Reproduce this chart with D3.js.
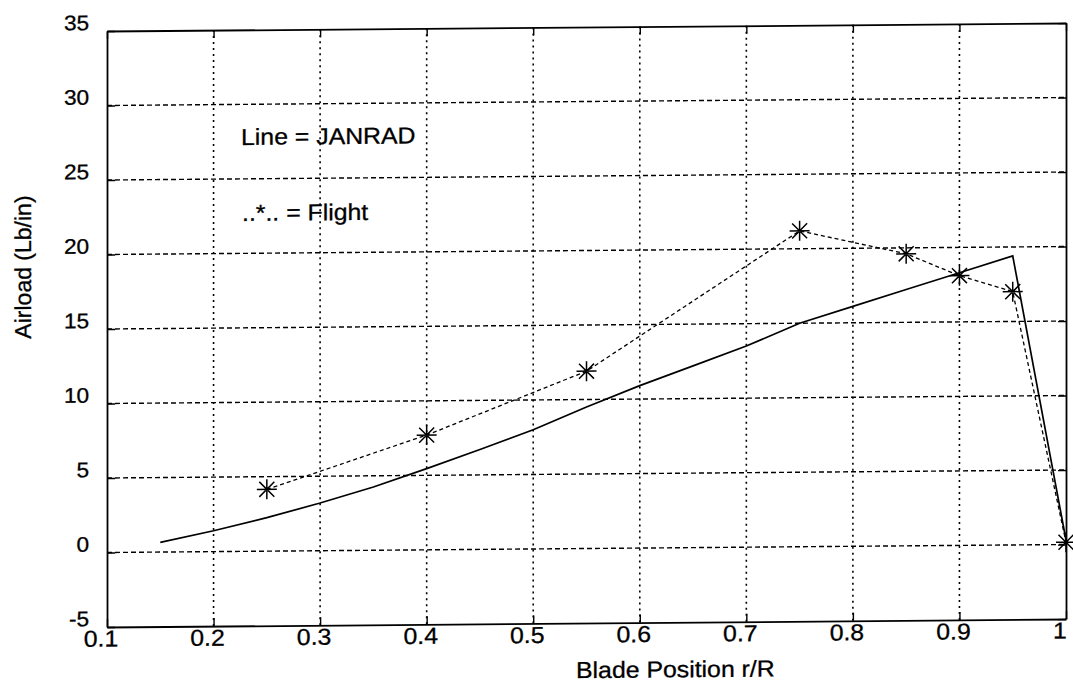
<!DOCTYPE html>
<html>
<head>
<meta charset="utf-8">
<script src="https://cdn.jsdelivr.net/npm/d3@7"></script>
<style>
  html, body { margin: 0; padding: 0; background: #fff; }
  svg { display: block; }
  text { font-family: "Liberation Sans", Arial, sans-serif; fill: #000; stroke: #000; stroke-width: 0.3px; }
</style>
</head>
<body>
<svg id="chart" width="1073" height="688"></svg>
<script>
// Blade spanwise airload: JANRAD prediction vs. flight measurement
const janradR    = [0.15, 0.2, 0.25, 0.3, 0.35, 0.4, 0.45, 0.5, 0.55, 0.6, 0.65, 0.7, 0.75, 0.8, 0.85, 0.9, 0.95, 1.0];
const janradLoad = [0.65, 1.4, 2.25, 3.2, 4.25, 5.45, 6.7, 8.0, 9.5, 10.9, 12.2, 13.5, 15.0, 16.1, 17.2, 18.3, 19.4, 0.3];

const flightR    = [0.25, 0.4, 0.55, 0.75, 0.85, 0.9, 0.95, 1.0];
const flightLoad = [4.15, 7.7, 11.9, 21.2, 19.6, 18.1, 17.0, 0.15];

const xTicks = [0.1, 0.2, 0.3, 0.4, 0.5, 0.6, 0.7, 0.8, 0.9, 1];
const yTicks = [-5, 0, 5, 10, 15, 20, 25, 30, 35];

const xTitle = "Blade Position r/R";
const yTitle = "Airload (Lb/in)";
const notes  = ["Line = JANRAD", "..*.. = Flight"];

const svg = d3.select("#chart");
const L = 107, R = 1066, T = 31, B = 627;
const FONT = "Liberation Sans, Arial, sans-serif";
const SX = 1.08; // glyphs are a little wider than regular Arial

const x = d3.scaleLinear().domain([0.1, 1]).range([L, R]);
const y = d3.scaleLinear().domain([-5, 35]).range([B, T]);

// slight page skew of the printed figure
const k = 8 / 960;
const g = svg.append("g")
  .attr("transform", `matrix(1,${-k},0,1,0,${k * L})`);

// grid
g.append("g").selectAll("line").data(yTicks.slice(1, -1)).join("line")
  .attr("x1", L).attr("x2", R)
  .attr("y1", d => y(d)).attr("y2", d => y(d))
  .attr("stroke", "#000").attr("stroke-width", 1.4)
  .attr("stroke-dasharray", "5,3");
g.append("g").selectAll("line").data(xTicks.slice(1, -1)).join("line")
  .attr("y1", T).attr("y2", B)
  .attr("x1", d => x(d)).attr("x2", d => x(d))
  .attr("stroke", "#000").attr("stroke-width", 1.6)
  .attr("stroke-dasharray", "2,4");

// axes box with inward ticks
const plain = d => String(d);
const axB = g.append("g").attr("transform", `translate(0,${B})`)
  .call(d3.axisBottom(x).tickValues(xTicks).tickSizeInner(-8).tickSizeOuter(0).tickFormat(plain));
const axL = g.append("g").attr("transform", `translate(${L},0)`)
  .call(d3.axisLeft(y).tickValues(yTicks).tickSizeInner(-8).tickSizeOuter(0).tickFormat(plain));
const axT = g.append("g").attr("transform", `translate(0,${T})`)
  .call(d3.axisTop(x).tickValues(xTicks).tickSizeInner(-8).tickSizeOuter(0).tickFormat(""));
const axR = g.append("g").attr("transform", `translate(${R},0)`)
  .call(d3.axisRight(y).tickValues(yTicks).tickSizeInner(-8).tickSizeOuter(0).tickFormat(""));
[axB, axL, axT, axR].forEach(a => {
  a.select(".domain").attr("stroke", "#000").attr("stroke-width", 1.8);
  a.selectAll(".tick line").attr("stroke", "#000").attr("stroke-width", 1.4);
});
axB.selectAll(".tick text")
  .attr("font-size", 23).attr("font-family", FONT)
  .attr("dy", 0).attr("y", 19.5).attr("x", -6)
  .attr("transform", `scale(${SX},1)`);
axL.selectAll(".tick text")
  .attr("font-size", 21).attr("font-family", FONT)
  .attr("x", -16.5).attr("dy", 0).attr("y", -1.5)
  .attr("transform", `scale(${SX},1)`);

// JANRAD prediction (solid)
g.append("path")
  .datum(janradR.map((r, i) => [r, janradLoad[i]]))
  .attr("fill", "none").attr("stroke", "#000").attr("stroke-width", 1.7)
  .attr("d", d3.line().x(d => x(d[0])).y(d => y(d[1])));

// flight data (dashed with asterisks)
const flight = flightR.map((r, i) => [r, flightLoad[i]]);
g.append("path")
  .datum(flight)
  .attr("fill", "none").attr("stroke", "#000").attr("stroke-width", 1.3)
  .attr("stroke-dasharray", "4,3")
  .attr("d", d3.line().x(d => x(d[0])).y(d => y(d[1])));

const s = 10, sd = 7.5;
const star = g.append("g").selectAll("g").data(flight).join("g")
  .attr("transform", d => `translate(${x(d[0])},${y(d[1])})`);
star.append("path")
  .attr("d", `M${-s},0L${s},0M0,${-s}L0,${s}M${-sd},${-sd}L${sd},${sd}M${-sd},${sd}L${sd},${-sd}`)
  .attr("stroke", "#000").attr("stroke-width", 1.5).attr("fill", "none");

// annotation
const note = (tx, ty, str) => g.append("text")
  .attr("transform", `translate(${tx},${ty}) scale(${SX},1)`)
  .attr("font-size", 23).text(str);
note(241, 146, notes[0]);
note(242, 222, notes[1]);

// axis titles
g.append("text").attr("transform", `translate(576,682) scale(${SX},1)`)
  .attr("font-size", 23).text(xTitle);
g.append("text").attr("transform", `translate(31,338) rotate(-90)`)
  .attr("font-size", 23).text(yTitle);
</script>
</body>
</html>
